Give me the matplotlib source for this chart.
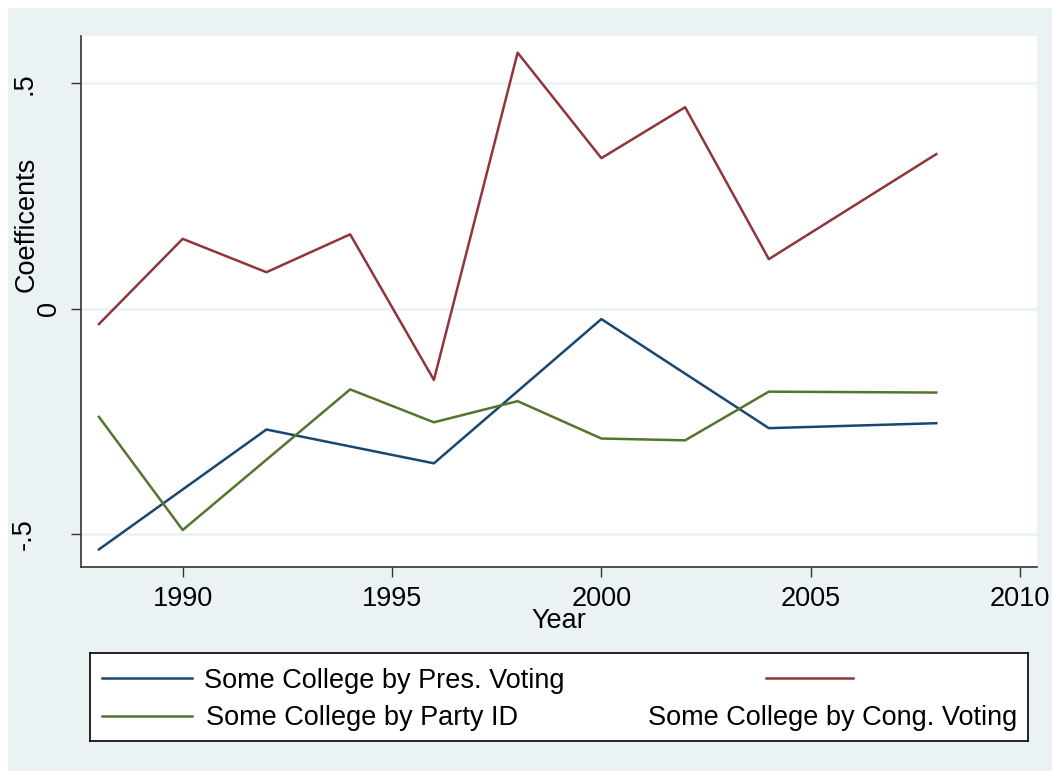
import matplotlib
matplotlib.use("Agg")
import matplotlib.pyplot as plt
from matplotlib.patches import Rectangle
from matplotlib.transforms import ScaledTranslation

plt.rcParams["font.family"] = ["Liberation Sans", "DejaVu Sans"]

# coefficients
pres_years = [1988, 1992, 1996, 2000, 2004, 2008]
pres_coef = [-0.534, -0.268, -0.343, -0.023, -0.265, -0.254]

cong_years = [1988, 1990, 1992, 1994, 1996, 1998, 2000, 2002, 2004, 2008]
cong_coef = [-0.034, 0.155, 0.081, 0.165, -0.158, 0.568, 0.334, 0.447, 0.110, 0.343]

party_years = [1988, 1990, 1994, 1996, 1998, 2000, 2002, 2004, 2008]
party_coef = [-0.240, -0.491, -0.179, -0.252, -0.205, -0.288, -0.292, -0.184, -0.186]

x_ticks = [1990, 1995, 2000, 2005, 2010]
y_ticks = [-0.5, 0, 0.5]
y_tick_labels = ["-.5", "0", ".5"]

NAVY = "#1a476f"
MAROON = "#90353b"
GREEN = "#55752f"
BG = "#eaf2f3"
FS = 19.5

W, H = 1052, 771
fig = plt.figure(figsize=(W / 100, H / 100), dpi=100)
fig.patch.set_facecolor("white")
fig.patches.append(Rectangle((8 / W, 0), 1, 1 - 8 / H, transform=fig.transFigure,
                             facecolor=BG, edgecolor="none", zorder=-10))

ax = fig.add_axes([81 / W, 1 - 567 / H, (1037 - 81) / W, (567 - 36) / H])
ax.set_facecolor("white")
ax.plot(pres_years, pres_coef, color=NAVY, lw=1.8, zorder=3)
ax.plot(cong_years, cong_coef, color=MAROON, lw=1.8, zorder=3)
ax.plot(party_years, party_coef, color=GREEN, lw=1.8, zorder=3)

ax.set_xlim(1987.571, 2010.405)
ax.set_ylim(-0.573, 0.605)
for y in y_ticks:
    ax.axhline(y, color=BG, lw=1.8, zorder=1)

for side in ("top", "right"):
    ax.spines[side].set_visible(False)
for side in ("left", "bottom"):
    ax.spines[side].set_color("#333333")
    ax.spines[side].set_linewidth(1.2)

ax.set_xticks(x_ticks)
ax.set_xticklabels([str(t) for t in x_ticks], fontsize=FS)
ax.set_yticks(y_ticks)
ax.set_yticklabels(y_tick_labels, fontsize=FS, rotation=90, va="center")
ax.tick_params(axis="both", length=7.5, width=1.0, color="#333333")
ax.tick_params(axis="x", pad=6)
ax.tick_params(axis="y", pad=24)
# Stata puts the short "0" label closer to the axis
for lab in ax.get_yticklabels():
    if lab.get_text() == "0":
        lab.set_transform(lab.get_transform() + ScaledTranslation(25 / 100, 0, fig.dpi_scale_trans))

ax.set_xlabel("Year", fontsize=FS)
ax.xaxis.set_label_coords(0.5, -0.078)
ax.set_ylabel("Coefficents", fontsize=FS)
ax.yaxis.set_label_coords(-0.043, 0.645)

# legend box laid out like the Stata one
lg = fig.add_axes([90 / W, 1 - 741 / H, (1028 - 90) / W, (741 - 653) / H])
lg.set_xlim(0, 1)
lg.set_ylim(0, 1)
lg.set_xticks([])
lg.set_yticks([])
lg.set_facecolor("white")
for sp in lg.spines.values():
    sp.set_linewidth(1.2)
    sp.set_color("black")
lg.plot([0.0128, 0.1087], [0.716, 0.716], color=NAVY, lw=1.8)
lg.plot([0.0128, 0.1087], [0.284, 0.284], color=GREEN, lw=1.8)
lg.plot([0.7207, 0.8134], [0.716, 0.716], color=MAROON, lw=1.8)
lg.text(0.1215, 0.68, "Some College by Pres. Voting", fontsize=FS, ha="left", va="center")
lg.text(0.1237, 0.26, "Some College by Party ID", fontsize=FS, ha="left", va="center")
lg.text(0.5949, 0.26, "Some College by Cong. Voting", fontsize=FS, ha="left", va="center")

fig.savefig("out.png", dpi=100, facecolor=fig.get_facecolor())
